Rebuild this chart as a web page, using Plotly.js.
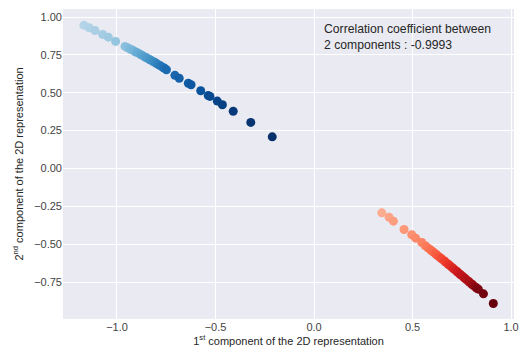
<!DOCTYPE html>
<html>
<head>
<meta charset="utf-8">
<script src="https://cdn.plot.ly/plotly-3.0.1.min.js"></script>
<style>html,body{margin:0;padding:0;background:#fff;}#chart{width:520px;height:352px;}</style>
</head>
<body>
<div id="chart"></div>
<script>
// Blue group (first cluster), ordered along the line
const blueX = [-1.168, -1.141, -1.112, -1.073, -1.044, -1.007, -0.959, -0.946, -0.931, -0.919, -0.905, -0.894, -0.880, -0.870, -0.857, -0.847, -0.835, -0.827, -0.814, -0.806, -0.797, -0.785, -0.778, -0.766, -0.759, -0.749, -0.706, -0.684, -0.638, -0.624, -0.575, -0.537, -0.528, -0.491, -0.465, -0.410, -0.321, -0.212];
const blueY = [0.945, 0.929, 0.911, 0.885, 0.867, 0.839, 0.806, 0.797, 0.787, 0.780, 0.769, 0.763, 0.752, 0.745, 0.735, 0.729, 0.719, 0.714, 0.704, 0.699, 0.691, 0.682, 0.677, 0.667, 0.662, 0.652, 0.615, 0.596, 0.563, 0.553, 0.513, 0.482, 0.476, 0.445, 0.421, 0.378, 0.304, 0.209];
// Red group (second cluster)
const redX = [0.344, 0.381, 0.403, 0.457, 0.496, 0.516, 0.547, 0.565, 0.580, 0.593, 0.603, 0.616, 0.625, 0.638, 0.647, 0.660, 0.668, 0.680, 0.688, 0.700, 0.708, 0.720, 0.728, 0.740, 0.748, 0.760, 0.768, 0.780, 0.788, 0.800, 0.807, 0.818, 0.825, 0.834, 0.860, 0.910];
const redY = [-0.293, -0.322, -0.348, -0.403, -0.438, -0.460, -0.489, -0.510, -0.526, -0.539, -0.550, -0.563, -0.573, -0.586, -0.596, -0.609, -0.618, -0.631, -0.640, -0.653, -0.662, -0.675, -0.684, -0.697, -0.706, -0.719, -0.728, -0.741, -0.750, -0.763, -0.770, -0.782, -0.789, -0.797, -0.828, -0.892];
const annotationText = "Correlation coefficient between<br>2 components : -0.9993";
const xTitle = "1<sup>st</sup> component of the 2D representation";
const yTitle = "2<sup>nd</sup> component of the 2D representation";

const blues = [[0,'#f7fbff'],[0.125,'#deebf7'],[0.25,'#c6dbef'],[0.375,'#9ecae1'],[0.5,'#6baed6'],[0.625,'#4292c6'],[0.75,'#2171b5'],[0.875,'#08519c'],[1,'#08306b']];
const reds = [[0,'#fff5f0'],[0.125,'#fee0d2'],[0.25,'#fcbba1'],[0.375,'#fc9272'],[0.5,'#fb6a4a'],[0.625,'#ef3b2c'],[0.75,'#cb181d'],[0.875,'#a50f15'],[1,'#67000d']];

function rank(arr){ return arr.map((_, i) => i); }
function trace(x, y, scale){
  const c = rank(x);
  const n = x.length - 1;
  return {
    x: x, y: y, type: 'scatter', mode: 'markers', showlegend: false,
    marker: {size: 9, color: c, colorscale: scale, cmin: -0.3 / 0.7 * n, cmax: n, line: {width: 0}, showscale: false}
  };
}

const font = {family: 'Liberation Sans, Arial, sans-serif', color: '#262626'};
const layout = {
  width: 520, height: 352,
  margin: {l: 63, r: 6, t: 9, b: 33},
  paper_bgcolor: '#ffffff', plot_bgcolor: '#EAEAF2',
  font: Object.assign({size: 11}, font),
  xaxis: {
    range: [-1.274, 1.015], dtick: 0.5, tick0: 0, tickformat: '.1f',
    showgrid: true, gridcolor: '#ffffff', gridwidth: 1, zeroline: false,
    ticks: '', showline: false, tickfont: {size: 11, color: '#444444'},
    title: {text: xTitle, font: {size: 11, color: '#262626'}, standoff: 4}
  },
  yaxis: {
    range: [-0.994, 1.053], dtick: 0.25, tick0: 0, tickformat: '.2f',
    showgrid: true, gridcolor: '#ffffff', gridwidth: 1, zeroline: false,
    ticks: '', showline: false, tickfont: {size: 11, color: '#444444'},
    title: {text: yTitle, font: {size: 11, color: '#262626'}, standoff: 8}
  },
  annotations: [{
    text: annotationText, xref: 'x', yref: 'y', x: 0.045, y: 0.972,
    xanchor: 'left', yanchor: 'top', align: 'left', showarrow: false, borderpad: 0,
    font: {size: 12.2, color: '#262626', family: 'Liberation Sans, Arial, sans-serif'}
  }]
};

Plotly.newPlot('chart', [trace(blueX, blueY, blues), trace(redX, redY, reds)], layout, {staticPlot: true, displayModeBar: false});
</script>
</body>
</html>
